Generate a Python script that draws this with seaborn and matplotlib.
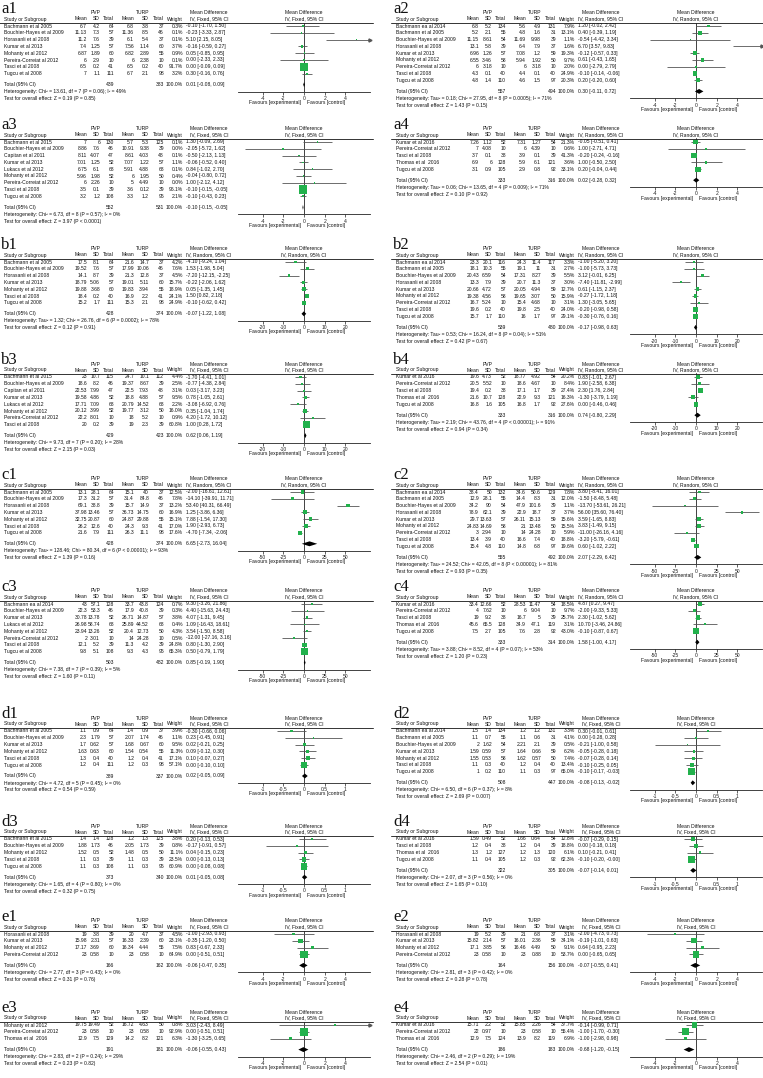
import matplotlib
matplotlib.use("Agg")
import matplotlib.pyplot as plt
import numpy as np
import pandas as pd
import seaborn as sns

# ---------------- study names ----------------
BA05 = "Bachmann et al 2005"
BA14 = "Bachmann ea al 2014"
BA15 = "Bachmann et al 2015"
BH09 = "Bouchier-Hayes et al 2009"
CA11 = "Capitan et al 2011"
HO08 = "Horasanli et al 2008"
KU13 = "Kumar et al 2013"
KU16 = "Kumar et al 2016"
LU12 = "Lukacs et al 2012"
MO12 = "Mohanty et al 2012"
PC12 = "Pereira-Correiat al 2012"
TA08 = "Tasci et al 2008"
TH16 = "Thomas et al  2016"
TU08 = "Tugcu et al 2008"

# ---------------- axis ticks per outcome ----------------
ticks_a = [-4, -2, 0, 2, 4]
ticks_b = [-20, -10, 0, 10, 20]
ticks_c = [-50, -25, 0, 25, 50]
ticks_d = [-1, -0.5, 0, 0.5, 1]
ticks_e = [-4, -2, 0, 2, 4]

# ---------------- a1 ----------------
a1_model = "Fixed"
a1_study = [BA05, BH09, HO08, KU13, MO12, PC12, TA08, TU08]
a1_pvp_mean = [6.7, 11.13, 11.2, 7.4, 6.87, 6, 6.5, 7]
a1_pvp_sd = [4.2, 7.3, 7.6, 1.25, 1.89, 2.9, 0.2, 1.1]
a1_pvp_n = [64, 57, 39, 57, 60, 10, 41, 111]
a1_turp_mean = [6.8, 11.36, 6.1, 7.56, 6.82, 6, 6.5, 6.7]
a1_turp_sd = [3.8, 8.5, 5.4, 1.14, 2.89, 2.38, 0.2, 2.1]
a1_turp_n = [37, 46, 37, 60, 55, 10, 40, 98]
a1_weight = [0.3, 0.1, 0.1, 3.7, 0.9, 0.1, 91.7, 3.2]
a1_md = [-0.10, -0.23, 5.10, -0.16, 0.05, 0.00, 0.00, 0.30]
a1_lo = [-1.70, -3.33, 2.15, -0.59, -0.85, -2.33, -0.09, -0.16]
a1_hi = [1.50, 2.87, 8.05, 0.27, 0.95, 2.33, 0.09, 0.76]
a1_total = [439, 383, 0.01, -0.08, 0.09]
a1_het = "Heterogeneity: Chi² = 13.61, df = 7 (P = 0.06); I² = 49%"
a1_z = "Test for overall effect: Z = 0.19 (P = 0.85)"

# ---------------- a2 ----------------
a2_model = "Random"
a2_study = [BA14, BA05, BH09, HO08, KU13, MO12, PC12, TA08, TU08]
a2_pvp_mean = [6.8, 5.2, 11.15, 13.1, 6.96, 6.55, 6, 4.3, 4.8]
a2_pvp_sd = [5.2, 2.1, 8.61, 5.8, 1.26, 3.46, 3.18, 0.1, 1.4]
a2_pvp_n = [134, 55, 54, 39, 57, 58, 10, 40, 110]
a2_turp_mean = [5.6, 4.8, 11.69, 6.4, 7.08, 5.94, 6, 4.4, 4.6]
a2_turp_sd = [4.9, 1.6, 9.98, 7.9, 1.2, 1.92, 3.18, 0.1, 1.5]
a2_turp_n = [131, 31, 39, 37, 59, 50, 10, 40, 97]
a2_weight = [7.9, 13.1, 1.1, 1.6, 19.3, 9.7, 2.0, 24.9, 20.3]
a2_md = [1.20, 0.40, -0.54, 6.70, -0.12, 0.61, 0.00, -0.10, 0.20]
a2_lo = [-0.02, -0.39, -4.42, 3.57, -0.57, -0.43, -2.79, -0.14, -0.20]
a2_hi = [2.42, 1.19, 3.34, 9.83, 0.33, 1.65, 2.79, -0.06, 0.60]
a2_total = [557, 494, 0.30, -0.11, 0.72]
a2_het = "Heterogeneity: Tau² = 0.18; Chi² = 27.95, df = 8 (P = 0.0005); I² = 71%"
a2_z = "Test for overall effect: Z = 1.43 (P = 0.15)"

# ---------------- a3 ----------------
a3_model = "Fixed"
a3_study = [BA15, BH09, CA11, KU13, LU12, MO12, PC12, TA08, TU08]
a3_pvp_mean = [7, 8.86, 8.11, 7.01, 6.75, 5.96, 6, 3.5, 3.2]
a3_pvp_sd = [6, 7.6, 4.07, 1.25, 6.1, 1.98, 2.26, 0.1, 1.2]
a3_pvp_n = [130, 46, 47, 52, 68, 52, 10, 39, 108]
a3_turp_mean = [5.7, 10.91, 8.61, 7.07, 5.91, 6, 5, 3.6, 3.3]
a3_turp_sd = [5.3, 9.38, 4.03, 1.22, 4.88, 1.95, 4.49, 0.12, 1.2]
a3_turp_n = [125, 39, 48, 57, 68, 50, 10, 39, 95]
a3_weight = [0.1, 0.0, 0.1, 1.1, 0.1, 0.4, 0.0, 96.1, 2.1]
a3_md = [1.30, -2.05, -0.50, -0.06, 0.84, -0.04, 1.00, -0.10, -0.10]
a3_lo = [-0.09, -5.72, -2.13, -0.52, -1.02, -0.80, -2.12, -0.15, -0.43]
a3_hi = [2.69, 1.62, 1.13, 0.40, 2.70, 0.72, 4.12, -0.05, 0.23]
a3_total = [552, 531, -0.10, -0.15, -0.05]
a3_het = "Heterogeneity: Chi² = 6.73, df = 8 (P = 0.57); I² = 0%"
a3_z = "Test for overall effect: Z = 3.97 (P < 0.0001)"

# ---------------- a4 ----------------
a4_model = "Random"
a4_study = [KU16, PC12, TA08, TH16, TU08]
a4_pvp_mean = [7.26, 7, 3.7, 6.9, 3.1]
a4_pvp_sd = [1.12, 4.08, 0.1, 6, 0.9]
a4_pvp_n = [52, 10, 38, 128, 105]
a4_turp_mean = [7.31, 6, 3.9, 5.9, 2.9]
a4_turp_sd = [1.27, 4.39, 0.1, 6.1, 0.8]
a4_turp_n = [54, 10, 39, 121, 92]
a4_weight = [21.3, 0.6, 41.3, 3.6, 33.1]
a4_md = [-0.05, 1.00, -0.20, 1.00, 0.20]
a4_lo = [-0.51, -2.71, -0.24, -0.50, -0.04]
a4_hi = [0.41, 4.71, -0.16, 2.50, 0.44]
a4_total = [333, 316, 0.02, -0.28, 0.32]
a4_het = "Heterogeneity: Tau² = 0.06; Chi² = 13.65, df = 4 (P = 0.009); I² = 71%"
a4_z = "Test for overall effect: Z = 0.10 (P = 0.92)"

# ---------------- b1 ----------------
b1_model = "Random"
b1_study = [BA05, BH09, HO08, KU13, MO12, TA08, TU08]
b1_pvp_mean = [17.5, 19.52, 14.1, 18.79, 19.88, 18.4, 15.2]
b1_pvp_sd = [8.1, 7.6, 8.7, 5.06, 3.68, 0.2, 1.7]
b1_pvp_n = [64, 57, 39, 57, 60, 40, 111]
b1_turp_mean = [21.6, 17.99, 21.3, 19.01, 19.83, 16.9, 15.3]
b1_turp_sd = [14.7, 10.06, 12.8, 5.11, 3.94, 2.2, 2.1]
b1_turp_n = [37, 46, 37, 60, 55, 41, 98]
b1_weight = [4.2, 7.6, 4.5, 15.7, 18.9, 24.1, 24.9]
b1_md = [-4.10, 1.53, -7.20, -0.22, 0.05, 1.50, -0.10]
b1_lo = [-9.24, -1.98, -12.15, -2.06, -1.35, 0.82, -0.62]
b1_hi = [1.04, 5.04, -2.25, 1.62, 1.45, 2.18, 0.42]
b1_total = [428, 374, -0.07, -1.22, 1.08]
b1_het = "Heterogeneity: Tau² = 1.32; Chi² = 26.76, df = 6 (P = 0.0002); I² = 78%"
b1_z = "Test for overall effect: Z = 0.12 (P = 0.91)"

# ---------------- b2 ----------------
b2_model = "Random"
b2_study = [BA14, BA05, BH09, HO08, KU13, MO12, PC12, TA08, TU08]
b2_pvp_mean = [23.3, 18.1, 20.43, 13.3, 20.66, 19.38, 16.7, 19.6, 15.7]
b2_pvp_sd = [20.1, 10.3, 6.59, 7.9, 4.72, 4.56, 5.24, 0.2, 1.7]
b2_pvp_n = [116, 55, 54, 39, 57, 58, 10, 40, 110]
b2_turp_mean = [24.3, 19.1, 17.31, 20.7, 20.05, 19.65, 15.4, 19.8, 16]
b2_turp_sd = [11.4, 11, 8.27, 11.3, 4.94, 3.07, 4.68, 2.5, 1.7]
b2_turp_n = [117, 31, 39, 37, 59, 50, 10, 40, 97]
b2_weight = [3.3, 2.7, 5.5, 3.0, 12.7, 15.9, 3.1, 24.0, 29.1]
b2_md = [-1.00, -1.00, 3.12, -7.40, 0.61, -0.27, 1.30, -0.20, -0.30]
b2_lo = [-5.20, -5.73, -0.01, -11.81, -1.15, -1.72, -3.05, -0.98, -0.76]
b2_hi = [3.20, 3.73, 6.25, -2.99, 2.37, 1.18, 5.65, 0.58, 0.16]
b2_total = [539, 480, -0.17, -0.98, 0.63]
b2_het = "Heterogeneity: Tau² = 0.53; Chi² = 16.24, df = 8 (P = 0.04); I² = 51%"
b2_z = "Test for overall effect: Z = 0.42 (P = 0.67)"

# ---------------- b3 ----------------
b3_model = "Fixed"
b3_study = [BA15, BH09, CA11, KU13, LU12, MO12, PC12, TA08]
b3_pvp_mean = [23, 18.6, 22.53, 19.58, 17.71, 20.12, 22.2, 20]
b3_pvp_sd = [10.7, 8.2, 7.99, 4.86, 7.09, 3.99, 8.01, 0.2]
b3_pvp_n = [115, 46, 47, 52, 68, 52, 10, 39]
b3_turp_mean = [24.7, 19.37, 22.5, 18.8, 20.79, 19.77, 18, 19]
b3_turp_sd = [10.1, 8.67, 7.93, 4.88, 14.52, 3.12, 5.2, 2.3]
b3_turp_n = [112, 39, 48, 57, 68, 50, 10, 39]
b3_weight = [4.4, 2.5, 3.1, 9.5, 2.2, 16.0, 0.9, 60.8]
b3_md = [-1.70, -0.77, 0.03, 0.78, -3.08, 0.35, 4.20, 1.00]
b3_lo = [-4.41, -4.38, -3.17, -1.05, -6.92, -1.04, -1.72, 0.28]
b3_hi = [1.01, 2.84, 3.23, 2.61, 0.76, 1.74, 10.12, 1.72]
b3_total = [429, 423, 0.62, 0.06, 1.19]
b3_het = "Heterogeneity: Chi² = 9.73, df = 7 (P = 0.20); I² = 28%"
b3_z = "Test for overall effect: Z = 2.15 (P = 0.03)"

# ---------------- b4 ----------------
b4_model = "Random"
b4_study = [KU16, PC12, TA08, TH16, TU08]
b4_pvp_mean = [19.6, 20.5, 19.4, 21.6, 16.8]
b4_pvp_sd = [4.73, 5.52, 0.2, 10.7, 1.6]
b4_pvp_n = [52, 10, 38, 128, 105]
b4_turp_mean = [18.77, 18.6, 17.1, 22.9, 16.8]
b4_turp_sd = [4.92, 4.67, 1.7, 9.3, 1.7]
b4_turp_n = [54, 10, 39, 121, 92]
b4_weight = [20.2, 8.4, 27.4, 16.3, 27.6]
b4_md = [0.83, 1.90, 2.30, -1.30, 0.00]
b4_lo = [-1.01, -2.58, 1.76, -3.79, -0.46]
b4_hi = [2.67, 6.38, 2.84, 1.19, 0.46]
b4_total = [333, 316, 0.74, -0.80, 2.29]
b4_het = "Heterogeneity: Tau² = 2.19; Chi² = 43.76, df = 4 (P < 0.00001); I² = 91%"
b4_z = "Test for overall effect: Z = 0.94 (P = 0.34)"

# ---------------- c1 ----------------
c1_model = "Random"
c1_study = [BA05, BH09, HO08, KU13, MO12, TA08, TU08]
c1_pvp_mean = [13.1, 17.3, 69.1, 37.98, 32.75, 26.2, 21.6]
c1_pvp_sd = [28.1, 31.2, 38.8, 13.46, 20.87, 12.6, 7.9]
c1_pvp_n = [64, 57, 39, 57, 60, 40, 111]
c1_turp_mean = [15.1, 31.4, 15.7, 36.73, 24.87, 24.3, 26.3]
c1_turp_sd = [40, 84.8, 14.9, 14.75, 29.88, 9.3, 11.1]
c1_turp_n = [37, 46, 37, 60, 55, 41, 98]
c1_weight = [12.5, 7.8, 13.2, 16.9, 15.1, 17.0, 17.6]
c1_md = [-2.00, -14.10, 53.40, 1.25, 7.88, 1.90, -4.70]
c1_lo = [-16.61, -39.91, 40.31, -3.86, -1.54, -2.93, -7.34]
c1_hi = [12.61, 11.71, 66.49, 6.36, 17.30, 6.73, -2.06]
c1_total = [428, 374, 6.65, -2.73, 16.04]
c1_het = "Heterogeneity: Tau² = 128.46; Chi² = 80.34, df = 6 (P < 0.00001); I² = 93%"
c1_z = "Test for overall effect: Z = 1.39 (P = 0.16)"

# ---------------- c2 ----------------
c2_model = "Random"
c2_study = [BA14, BA05, BH09, HO08, KU13, MO12, PC12, TA08, TU08]
c2_pvp_mean = [38.4, 12.9, 34.2, 78.9, 29.7, 24.83, 3, 13.4, 15.4]
c2_pvp_sd = [50, 28.1, 90, 62.1, 13.63, 14.69, 2.94, 3.9, 4.8]
c2_pvp_n = [132, 55, 54, 39, 57, 58, 10, 40, 110]
c2_turp_mean = [34.6, 14.4, 47.9, 22.9, 26.11, 21, 14, 16.6, 14.8]
c2_turp_sd = [50.6, 8.3, 101.6, 18.7, 15.13, 13.48, 24.28, 7.4, 6.8]
c2_turp_n = [129, 31, 39, 37, 59, 50, 10, 40, 97]
c2_weight = [7.8, 12.0, 1.1, 3.7, 15.6, 15.5, 5.9, 18.8, 19.6]
c2_md = [3.80, -1.50, -13.70, 56.00, 3.59, 3.83, -11.00, -3.20, 0.60]
c2_lo = [-8.41, -8.48, -53.61, 35.60, -1.65, -1.49, -26.16, -5.79, -1.02]
c2_hi = [16.01, 5.48, 26.21, 76.40, 8.83, 9.15, 4.16, -0.61, 2.22]
c2_total = [555, 492, 2.07, -2.29, 6.42]
c2_het = "Heterogeneity: Tau² = 24.52; Chi² = 42.05, df = 8 (P < 0.00001); I² = 81%"
c2_z = "Test for overall effect: Z = 0.93 (P = 0.35)"

# ---------------- c3 ----------------
c3_model = "Fixed"
c3_study = [BA14, BH09, KU13, LU12, MO12, PC12, TA08, TU08]
c3_pvp_mean = [43, 22.3, 30.78, 26.98, 23.94, 2, 12.1, 9.8]
c3_pvp_sd = [57.1, 53.3, 13.78, 58.74, 13.26, 3.01, 5.2, 5.1]
c3_pvp_n = [128, 46, 52, 68, 52, 10, 39, 108]
c3_turp_mean = [33.7, 17.9, 26.71, 25.89, 20.4, 14, 11.3, 9.3]
c3_turp_sd = [43.8, 40.8, 14.87, 44.52, 12.73, 24.28, 4.2, 4.3]
c3_turp_n = [124, 39, 57, 68, 50, 10, 39, 95]
c3_weight = [0.7, 0.3, 3.8, 0.4, 4.3, 0.5, 24.8, 65.3]
c3_md = [9.30, 4.40, 4.07, 1.09, 3.54, -12.00, 0.80, 0.50]
c3_lo = [-3.26, -15.63, -1.31, -16.43, -1.50, -27.16, -1.30, -0.79]
c3_hi = [21.86, 24.43, 9.45, 18.61, 8.58, 3.16, 2.90, 1.79]
c3_total = [503, 482, 0.85, -0.19, 1.90]
c3_het = "Heterogeneity: Chi² = 7.38, df = 7 (P = 0.39); I² = 5%"
c3_z = "Test for overall effect: Z = 1.60 (P = 0.11)"

# ---------------- c4 ----------------
c4_model = "Random"
c4_study = [KU16, PC12, TA08, TH16, TU08]
c4_pvp_mean = [33.4, 4, 19, 45.6, 7.5]
c4_pvp_sd = [12.66, 7.62, 9.2, 65.5, 2.7]
c4_pvp_n = [52, 10, 38, 128, 105]
c4_turp_mean = [28.53, 6, 16.7, 34.9, 7.6]
c4_turp_sd = [11.47, 9.04, 5, 47.1, 2.8]
c4_turp_n = [54, 10, 39, 119, 92]
c4_weight = [18.5, 9.7, 25.7, 3.1, 43.0]
c4_md = [4.87, -2.00, 2.30, 10.70, -0.10]
c4_lo = [0.27, -9.33, -1.02, -3.46, -0.87]
c4_hi = [9.47, 5.33, 5.62, 24.86, 0.67]
c4_total = [333, 314, 1.58, -1.00, 4.17]
c4_het = "Heterogeneity: Tau² = 3.88; Chi² = 8.52, df = 4 (P = 0.07); I² = 53%"
c4_z = "Test for overall effect: Z = 1.20 (P = 0.23)"

# ---------------- d1 ----------------
d1_model = "Fixed"
d1_study = [BA05, BH09, KU13, MO12, TA08, TU08]
d1_pvp_mean = [1.1, 2.3, 1.7, 1.63, 1.3, 1.2]
d1_pvp_sd = [0.9, 1.79, 0.62, 0.63, 0.4, 0.4]
d1_pvp_n = [64, 57, 57, 60, 40, 111]
d1_turp_mean = [1.4, 2.07, 1.68, 1.54, 1.2, 1.2]
d1_turp_sd = [0.9, 1.74, 0.67, 0.54, 0.4, 0.3]
d1_turp_n = [37, 46, 60, 55, 41, 98]
d1_weight = [3.9, 1.1, 9.5, 11.3, 17.1, 57.1]
d1_md = [-0.30, 0.23, 0.02, 0.09, 0.10, 0.00]
d1_lo = [-0.66, -0.45, -0.21, -0.12, -0.07, -0.10]
d1_hi = [0.06, 0.91, 0.25, 0.30, 0.27, 0.10]
d1_total = [389, 337, 0.02, -0.05, 0.09]
d1_het = "Heterogeneity: Chi² = 4.72, df = 5 (P = 0.45); I² = 0%"
d1_z = "Test for overall effect: Z = 0.54 (P = 0.59)"

# ---------------- d2 ----------------
d2_model = "Fixed"
d2_study = [BA14, BA05, BH09, KU13, MO12, TA08, TU08]
d2_pvp_mean = [1.5, 1.1, 2, 1.59, 1.55, 1.1, 1]
d2_pvp_sd = [1.4, 0.7, 1.62, 0.59, 0.53, 0.3, 0.2]
d2_pvp_n = [134, 55, 54, 57, 58, 40, 110]
d2_turp_mean = [1.2, 1.1, 2.21, 1.64, 1.62, 1.2, 1.1]
d2_turp_sd = [1.2, 0.6, 2.1, 0.66, 0.57, 0.4, 0.3]
d2_turp_n = [131, 31, 39, 59, 50, 40, 97]
d2_weight = [3.3, 4.1, 0.5, 6.2, 7.4, 13.4, 65.0]
d2_md = [0.30, 0.00, -0.21, -0.05, -0.07, -0.10, -0.10]
d2_lo = [-0.01, -0.28, -1.00, -0.28, -0.28, -0.25, -0.17]
d2_hi = [0.61, 0.28, 0.58, 0.18, 0.14, 0.05, -0.03]
d2_total = [508, 447, -0.08, -0.13, -0.02]
d2_het = "Heterogeneity: Chi² = 6.50, df = 6 (P = 0.37); I² = 8%"
d2_z = "Test for overall effect: Z = 2.69 (P = 0.007)"

# ---------------- d3 ----------------
d3_model = "Fixed"
d3_study = [BA15, BH09, MO12, TA08, TU08]
d3_pvp_mean = [1.4, 1.88, 1.52, 1.1, 1.1]
d3_pvp_sd = [1.4, 1.73, 0.5, 0.3, 0.3]
d3_pvp_n = [128, 46, 52, 39, 108]
d3_turp_mean = [1.2, 2.05, 1.48, 1.1, 1.1]
d3_turp_sd = [1.3, 1.73, 0.5, 0.3, 0.3]
d3_turp_n = [125, 39, 50, 39, 95]
d3_weight = [3.8, 0.8, 11.1, 23.5, 60.9]
d3_md = [0.20, -0.17, 0.04, 0.00, 0.00]
d3_lo = [-0.13, -0.91, -0.15, -0.13, -0.08]
d3_hi = [0.53, 0.57, 0.23, 0.13, 0.08]
d3_total = [373, 340, 0.01, -0.05, 0.08]
d3_het = "Heterogeneity: Chi² = 1.65, df = 4 (P = 0.80); I² = 0%"
d3_z = "Test for overall effect: Z = 0.32 (P = 0.75)"

# ---------------- d4 ----------------
d4_model = "Fixed"
d4_study = [KU16, TA08, TH16, TU08]
d4_pvp_mean = [1.59, 1.2, 1.3, 1.1]
d4_pvp_sd = [0.49, 0.4, 1.2, 0.4]
d4_pvp_n = [52, 38, 127, 105]
d4_turp_mean = [1.66, 1.2, 1.2, 1.2]
d4_turp_sd = [0.64, 0.4, 1.3, 0.3]
d4_turp_n = [54, 39, 120, 92]
d4_weight = [12.8, 18.8, 6.1, 62.3]
d4_md = [-0.07, 0.00, 0.10, -0.10]
d4_lo = [-0.29, -0.18, -0.21, -0.20]
d4_hi = [0.15, 0.18, 0.41, -0.0]
d4_total = [322, 305, -0.07, -0.14, 0.01]
d4_het = "Heterogeneity: Chi² = 2.07, df = 3 (P = 0.56); I² = 0%"
d4_z = "Test for overall effect: Z = 1.65 (P = 0.10)"

# ---------------- e1 ----------------
e1_model = "Fixed"
e1_study = [HO08, KU13, MO12, PC12]
e1_pvp_mean = [19, 15.98, 17.17, 23]
e1_pvp_sd = [3.8, 2.31, 3.69, 0.58]
e1_pvp_n = [39, 57, 60, 10]
e1_turp_mean = [20, 16.33, 16.34, 23]
e1_turp_sd = [4.7, 2.39, 4.44, 0.58]
e1_turp_n = [37, 60, 55, 10]
e1_weight = [4.5, 23.1, 7.5, 64.9]
e1_md = [-1.00, -0.35, 0.83, 0.00]
e1_lo = [-2.93, -1.20, -0.67, -0.51]
e1_hi = [0.93, 0.50, 2.33, 0.51]
e1_total = [166, 162, -0.06, -0.47, 0.35]
e1_het = "Heterogeneity: Chi² = 2.77, df = 3 (P = 0.43); I² = 0%"
e1_z = "Test for overall effect: Z = 0.31 (P = 0.76)"

# ---------------- e2 ----------------
e2_model = "Fixed"
e2_study = [HO08, KU13, MO12, PC12]
e2_pvp_mean = [19, 15.82, 17.1, 23]
e2_pvp_sd = [5.2, 2.14, 3.85, 0.58]
e2_pvp_n = [39, 57, 58, 10]
e2_turp_mean = [21, 16.01, 16.46, 23]
e2_turp_sd = [6.8, 2.36, 4.49, 0.88]
e2_turp_n = [37, 59, 50, 10]
e2_weight = [3.1, 34.1, 9.1, 53.7]
e2_md = [-2.00, -0.19, 0.64, 0.00]
e2_lo = [-4.73, -1.01, -0.95, -0.65]
e2_hi = [0.73, 0.63, 2.23, 0.65]
e2_total = [164, 156, -0.07, -0.55, 0.41]
e2_het = "Heterogeneity: Chi² = 2.81, df = 3 (P = 0.42); I² = 0%"
e2_z = "Test for overall effect: Z = 0.28 (P = 0.78)"

# ---------------- e3 ----------------
e3_model = "Fixed"
e3_study = [MO12, PC12, TH16]
e3_pvp_mean = [19.75, 23, 12.9]
e3_pvp_sd = [19.49, 0.58, 7.5]
e3_pvp_n = [52, 10, 129]
e3_turp_mean = [16.72, 23, 14.2]
e3_turp_sd = [4.63, 0.58, 8.2]
e3_turp_n = [50, 10, 121]
e3_weight = [0.8, 92.9, 6.3]
e3_md = [3.03, 0.00, -1.30]
e3_lo = [-2.43, -0.51, -3.25]
e3_hi = [8.49, 0.51, 0.65]
e3_total = [191, 181, -0.06, -0.55, 0.43]
e3_het = "Heterogeneity: Chi² = 2.83, df = 2 (P = 0.24); I² = 29%"
e3_z = "Test for overall effect: Z = 0.23 (P = 0.82)"

# ---------------- e4 ----------------
e4_model = "Fixed"
e4_study = [KU16, PC12, TH16]
e4_pvp_mean = [15.71, 22, 12.9]
e4_pvp_sd = [2.2, 0.97, 7.5]
e4_pvp_n = [52, 10, 124]
e4_turp_mean = [15.85, 23, 13.9]
e4_turp_sd = [2.26, 0.58, 8.2]
e4_turp_n = [54, 10, 119]
e4_weight = [37.7, 55.4, 6.9]
e4_md = [-0.14, -1.00, -1.00]
e4_lo = [-0.99, -1.70, -2.98]
e4_hi = [0.71, -0.30, 0.98]
e4_total = [186, 183, -0.68, -1.20, -0.15]
e4_het = "Heterogeneity: Chi² = 2.46, df = 2 (P = 0.29); I² = 19%"
e4_z = "Test for overall effect: Z = 2.54 (P = 0.01)"

GRID = [("a1", "a2"), ("a3", "a4"), ("b1", "b2"), ("b3", "b4"), ("c1", "c2"),
        ("c3", "c4"), ("d1", "d2"), ("d3", "d4"), ("e1", "e2"), ("e3", "e4")]
ROW_TOPS = [1, 117, 237, 352, 467, 579, 706, 814, 909, 1000]   # layout (px)
TICKS = {"a": ticks_a, "b": ticks_b, "c": ticks_c, "d": ticks_d, "e": ticks_e}

# ---------------- style ----------------
sns.set_theme(style="white")
plt.rcParams["font.family"] = ["Liberation Sans", "DejaVu Sans"]

W, H = 763, 1078
fig = plt.figure(figsize=(W / 100, H / 100), dpi=100)
bg = fig.add_axes([0, 0, 1, 1])
bg.set_xlim(0, W)
bg.set_ylim(H, 0)
bg.axis("off")

FS = 3.6
TXT = "#111111"
GREEN = "#22B14C"
P = 6.8          # row pitch (px)
COL = dict(pm=87, ps=100, pn=114, tm=134, ts=149, tn=164, w=183, ci=186)
PL, PW = 238, 132


def fmt(v):
    return f"{v:g}"


def get(name, key):
    return globals()[f"{name}_{key}"]


def txt(x, y, s, ha="left", **kw):
    bg.text(x, y, s, ha=ha, va="center", fontsize=FS, color=TXT, **kw)


def draw_panel(name, x0, t):
    study = get(name, "study")
    n = len(study)
    model = get(name, "model")
    ticks = TICKS[name[0]]
    lim = 1.6 * max(ticks)
    pm, ps, pn = get(name, "pvp_mean"), get(name, "pvp_sd"), get(name, "pvp_n")
    tm, ts, tn = get(name, "turp_mean"), get(name, "turp_sd"), get(name, "turp_n")
    w = get(name, "weight")
    md, lo, hi = get(name, "md"), get(name, "lo"), get(name, "hi")
    tot = get(name, "total")

    bg.text(x0 + 1, t + 8, name, ha="left", va="center", fontsize=12,
            family="Liberation Serif", color=TXT)
    yg, yh, yl = t + 12, t + 18, t + 21.5
    txt(x0 + 96, yg, "PVP", ha="center")
    txt(x0 + 143, yg, "TURP", ha="center")
    txt(x0 + 209, yg, "Mean Difference", ha="center")
    txt(x0 + PL + PW / 2, yg, "Mean Difference", ha="center")
    txt(x0 + 4, yh, "Study or Subgroup")
    for key, lab in [("pm", "Mean"), ("ps", "SD"), ("pn", "Total"), ("tm", "Mean"),
                     ("ts", "SD"), ("tn", "Total"), ("w", "Weight")]:
        txt(x0 + COL[key], yh, lab, ha="right")
    txt(x0 + 209, yh, f"IV, {model}, 95% CI", ha="center")
    txt(x0 + PL + PW / 2, yh, f"IV, {model}, 95% CI", ha="center")
    bg.plot([x0 - 1, x0 + 373], [yl, yl], color="#333333", lw=0.7)

    rowy = lambda r: t + 25 + P * r
    for i in range(n):
        y = rowy(i)
        txt(x0 + 4, y, study[i])
        txt(x0 + COL["pm"], y, fmt(pm[i]), ha="right")
        txt(x0 + COL["ps"], y, fmt(ps[i]), ha="right")
        txt(x0 + COL["pn"], y, fmt(pn[i]), ha="right")
        txt(x0 + COL["tm"], y, fmt(tm[i]), ha="right")
        txt(x0 + COL["ts"], y, fmt(ts[i]), ha="right")
        txt(x0 + COL["tn"], y, fmt(tn[i]), ha="right")
        txt(x0 + COL["w"], y, f"{w[i]:.1f}%", ha="right")
        txt(x0 + COL["ci"], y, f"{md[i]:.2f} [{lo[i]:.2f}, {hi[i]:.2f}]")

    r_tot = n - 1 + 11 / P
    yt = rowy(r_tot)
    txt(x0 + 4, yt, "Total (95% CI)")
    txt(x0 + COL["pn"], yt, fmt(tot[0]), ha="right")
    txt(x0 + COL["tn"], yt, fmt(tot[1]), ha="right")
    txt(x0 + COL["w"], yt, "100.0%", ha="right")
    txt(x0 + COL["ci"], yt, f"{tot[2]:.2f} [{tot[3]:.2f}, {tot[4]:.2f}]")
    txt(x0 + 4, yt + 7, get(name, "het"))
    txt(x0 + 4, yt + 14, get(name, "z"))

    # forest axes
    top, bot = yl, yt + 7
    ax = fig.add_axes([(x0 + PL) / W, 1 - bot / H, PW / W, (bot - top) / H])
    ax.set_xlim(-lim, lim)
    ax.set_ylim((bot - t - 25) / P, (top - t - 25) / P)
    ax.patch.set_alpha(0)
    for s in ["top", "left", "right"]:
        ax.spines[s].set_visible(False)
    ax.spines["bottom"].set_color("#222222")
    ax.spines["bottom"].set_linewidth(0.6)
    ax.set_yticks([])
    ax.set_xticks(ticks)
    ax.set_xticklabels([fmt(v) for v in ticks])
    ax.tick_params(axis="x", length=2, width=0.5, labelsize=FS, pad=1,
                   colors="#222222", bottom=True)
    ax.axvline(0, color="#222222", lw=0.6, zorder=1)

    rows = np.arange(n)
    ax.hlines(rows, lo, hi, color="#555555", lw=0.6, zorder=2)
    for i in range(n):
        if hi[i] > lim:
            ax.plot([lim], [i], marker=">", ms=2.2, color="#555555", clip_on=False, zorder=3)
        if lo[i] < -lim:
            ax.plot([-lim], [i], marker="<", ms=2.2, color="#555555", clip_on=False, zorder=3)
    df = pd.DataFrame({"md": md, "row": rows, "weight": w})
    sns.scatterplot(data=df, x="md", y="row", size="weight", sizes=(1.2, 40),
                    size_norm=(0, 100), marker="s", color=GREEN, linewidth=0,
                    legend=False, ax=ax, zorder=4)
    ax.set_xlabel("")
    ax.set_ylabel("")
    h = 0.36
    ax.fill([tot[3], tot[2], tot[4], tot[2]], [r_tot, r_tot - h, r_tot, r_tot + h],
            color="black", lw=0, zorder=5)

    xz = x0 + PL + PW / 2
    txt(xz - 3, yt + 18, "Favours [experimental]", ha="right")
    txt(xz + 3, yt + 18, "Favours [control]")


for (left, right), t in zip(GRID, ROW_TOPS):
    draw_panel(left, 0, t)
    draw_panel(right, 392, t)

fig.savefig("out.png", dpi=100)
